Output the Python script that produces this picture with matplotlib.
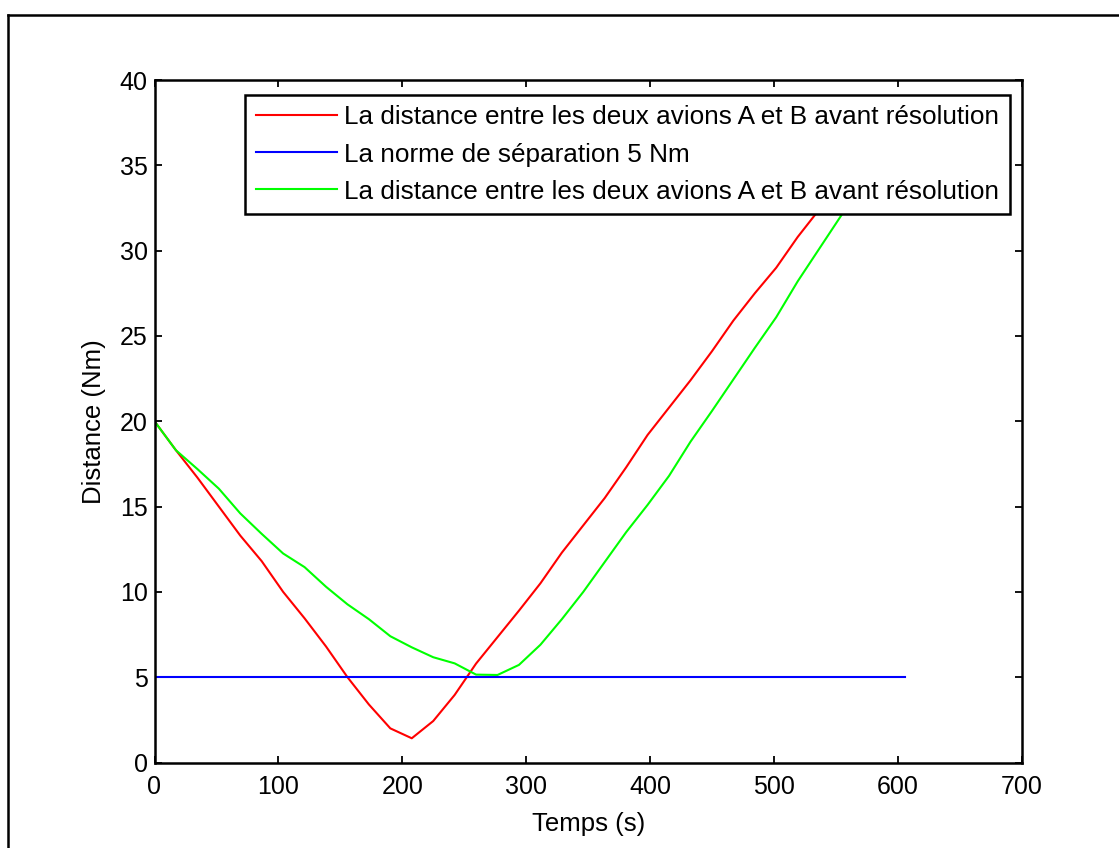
import numpy as np
import matplotlib
matplotlib.use("Agg")
import matplotlib.pyplot as plt
from matplotlib.lines import Line2D

plt.rcParams['font.family'] = ['Liberation Sans', 'DejaVu Sans']

# Time samples (s)
dt = 17.3
temps = np.arange(36) * dt

# Distance between aircraft A and B before resolution (Nm)
dist_avant = [20.0, 18.3, 16.7, 15.0, 13.3, 11.8, 10.0, 8.45, 6.8, 5.0,
              3.4, 2.0, 1.42, 2.43, 3.96, 5.8, 7.35, 8.9, 10.5, 12.3,
              13.9, 15.5, 17.3, 19.2, 20.8, 22.4, 24.1, 25.9, 27.5, 29.0,
              30.8, 32.4, 34.0, 35.5, 37.0, 38.5]

# Separation norm (Nm)
norme = [5.0] * 36

# Distance between aircraft A and B after resolution (Nm)
dist_apres = [20.0, 18.3, 17.2, 16.05, 14.6, 13.4, 12.25, 11.45, 10.3, 9.27,
              8.4, 7.4, 6.75, 6.17, 5.81, 5.15, 5.13, 5.72, 6.9, 8.4,
              10.0, 11.75, 13.5, 15.1, 16.8, 18.8, 20.6, 22.45, 24.3, 26.1,
              28.2, 30.1, 32.0, 33.9, 35.6, 37.2]

labels = ["La distance entre les deux avions A et B avant résolution",
          "La norme de séparation 5 Nm",
          "La distance entre les deux avions A et B avant résolution"]

W, H = 1119, 848
fig = plt.figure(figsize=(W / 100, H / 100), dpi=100)
ax = fig.add_axes([154.5 / W, 1 - 762.5 / H, (1022 - 154.5) / W, (762.5 - 80) / H])

lw = 1.5
ax.plot(temps, dist_avant, color='#ff0000', lw=lw, label=labels[0])
ax.plot(temps, norme, color='#0000ff', lw=lw, label=labels[1])
ax.plot(temps, dist_apres, color='#00ff00', lw=lw, label=labels[2])

ax.set_xlim(0, 700)
ax.set_ylim(0, 40)
ax.set_xticks(np.arange(0, 701, 100))
ax.set_yticks(np.arange(0, 41, 5))
ax.tick_params(direction='in', top=True, right=True, length=5, width=1.3,
               labelsize=18, colors='black')
ax.tick_params(axis='x', pad=9)
ax.tick_params(axis='y', pad=5)
for s in ax.spines.values():
    s.set_linewidth(1.8)

ax.set_xlabel("Temps (s)", fontsize=18.5, labelpad=9)
ax.set_ylabel("Distance (Nm)", fontsize=18.5, labelpad=10)

leg = ax.legend(loc='upper right', bbox_to_anchor=(0.986, 0.978),
                borderaxespad=0, fontsize=18.8, fancybox=False,
                framealpha=1, edgecolor='black', handlelength=3.1,
                handletextpad=0.3, labelspacing=0.5, borderpad=0.4)
leg.get_frame().set_linewidth(1.8)

# Outer figure frame (left and top edges)
fig.add_artist(Line2D([7.5 / W, 7.5 / W], [0, 1 - 14.5 / H],
                      transform=fig.transFigure, color='black', lw=1.8))
fig.add_artist(Line2D([7.5 / W, 1], [1 - 14.5 / H, 1 - 14.5 / H],
                      transform=fig.transFigure, color='black', lw=1.8))

fig.savefig("out.png", dpi=100, facecolor='white')
